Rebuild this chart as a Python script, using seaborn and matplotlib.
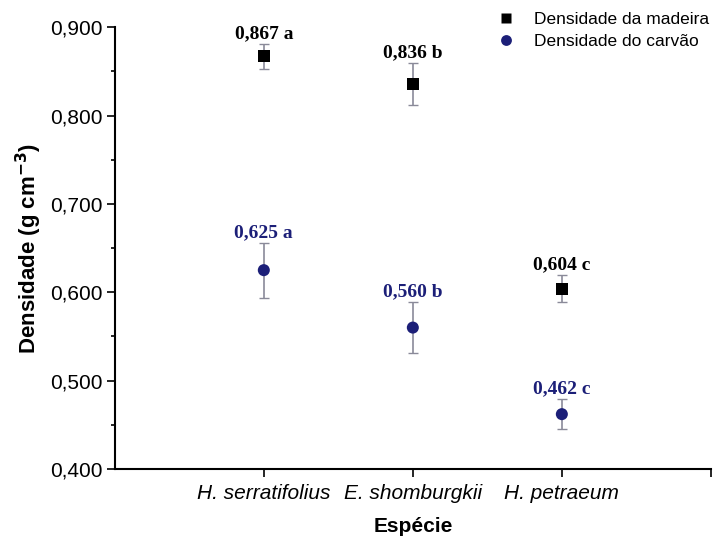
import numpy as np
import pandas as pd
import matplotlib
matplotlib.use("Agg")
import matplotlib.pyplot as plt
from matplotlib.ticker import FuncFormatter, MultipleLocator
import seaborn as sns

# Dados
especies = ["H. serratifolius", "E. shomburgkii", "H. petraeum"]
dens_madeira = [0.867, 0.836, 0.604]
erro_madeira = [0.014, 0.024, 0.015]
letras_madeira = ["a", "b", "c"]
dens_carvao = [0.625, 0.560, 0.462]
erro_carvao = [0.031, 0.029, 0.017]
letras_carvao = ["a", "b", "c"]

serie_madeira = "Densidade da madeira"
serie_carvao = "Densidade do carvão"

df = pd.DataFrame({
    "Espécie": especies * 2,
    "Densidade": dens_madeira + dens_carvao,
    "Erro": erro_madeira + erro_carvao,
    "Série": [serie_madeira] * 3 + [serie_carvao] * 3,
})

sns.set_style("ticks")
plt.rcParams["font.family"] = ["Liberation Sans", "DejaVu Sans"]
for chave in ["text.color", "axes.labelcolor", "xtick.color", "ytick.color", "axes.edgecolor"]:
    plt.rcParams[chave] = "black"

cor_madeira = "black"
cor_carvao = "#1c1f78"

fig = plt.figure(figsize=(7.13, 5.44), dpi=100)
ax = fig.add_axes([0.161, 0.138, 0.836, 0.812])

posicoes = {e: i for i, e in enumerate(especies)}
df["x"] = df["Espécie"].map(posicoes)

# barras de erro em cinza
ax.errorbar(df["x"], df["Densidade"], yerr=df["Erro"], fmt="none",
            ecolor="#8a8a99", elinewidth=1.2, capsize=3.5, capthick=1.0, zorder=1)

sns.scatterplot(data=df, x="x", y="Densidade", hue="Série", style="Série",
                palette={serie_madeira: cor_madeira, serie_carvao: cor_carvao},
                markers={serie_madeira: "s", serie_carvao: "o"},
                s=75, edgecolor="none", ax=ax, zorder=3)

# rótulos com os valores
for i in range(3):
    ax.text(i, dens_madeira[i] + erro_madeira[i] + 0.002,
            f"{dens_madeira[i]:.3f} {letras_madeira[i]}".replace(".", ","),
            ha="center", va="bottom", fontsize=14, fontweight="bold",
            family="Liberation Serif", color=cor_madeira)
    ax.text(i, dens_carvao[i] + erro_carvao[i] + 0.002,
            f"{dens_carvao[i]:.3f} {letras_carvao[i]}".replace(".", ","),
            ha="center", va="bottom", fontsize=14, fontweight="bold",
            family="Liberation Serif", color=cor_carvao)

ax.set_xlim(-1, 3)
ax.set_ylim(0.4, 0.9)
ax.set_xticks([0, 1, 2, 3])
ax.set_xticklabels(especies + [""], fontsize=15, style="italic")
ax.yaxis.set_major_locator(MultipleLocator(0.1))
ax.yaxis.set_minor_locator(MultipleLocator(0.05))
ax.yaxis.set_major_formatter(FuncFormatter(lambda v, p: f"{v:.3f}".replace(".", ",")))
ax.tick_params(axis="y", labelsize=15, length=6, width=1.2, pad=3)
ax.tick_params(axis="y", which="minor", length=3, width=1.2)
ax.tick_params(axis="x", length=6, width=1.2, pad=5)

ax.set_xlabel("Espécie", fontsize=15, fontweight="bold", labelpad=10)
ax.set_ylabel("Densidade (g cm$^{\\mathbf{-3}}$)", fontsize=16, fontweight="bold", labelpad=4)

sns.despine(ax=ax, top=True, right=True)
for lado in ["left", "bottom"]:
    ax.spines[lado].set_linewidth(1.5)
ax.spines["left"].set_bounds(0.4, 0.9)

leg = ax.legend(loc="upper right", bbox_to_anchor=(1.012, 1.055), frameon=False,
                fontsize=12.5, handletextpad=0.6, borderaxespad=0.1,
                labelspacing=0.4, markerscale=0.9)
leg.set_title(None)

plt.savefig("out.png", dpi=100)
